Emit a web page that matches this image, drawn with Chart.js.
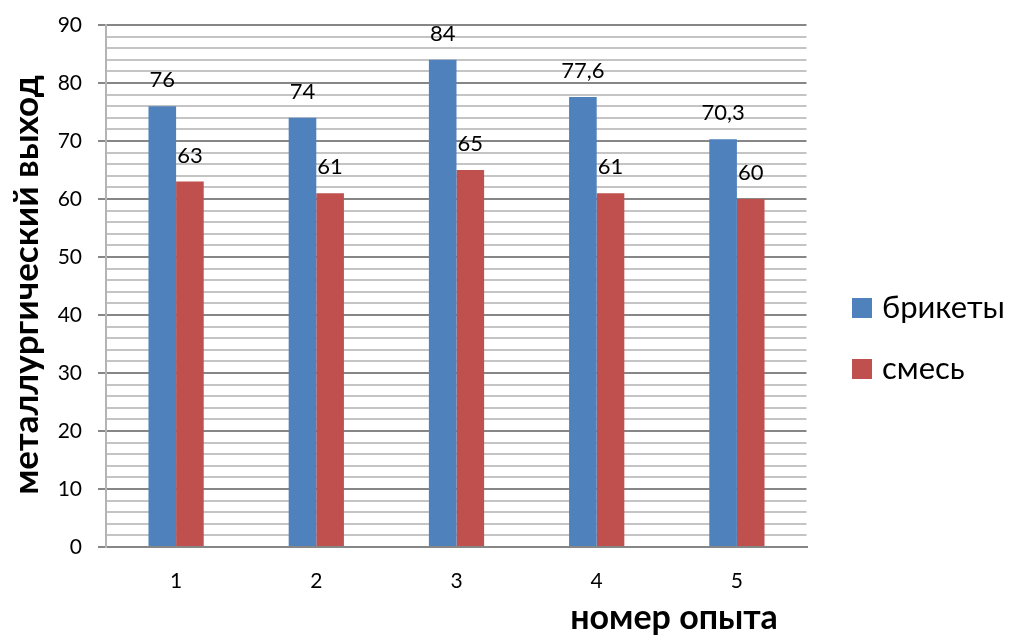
<!DOCTYPE html>
<html>
<head>
<meta charset="utf-8">
<script src="https://cdn.jsdelivr.net/npm/chart.js@4"></script>
<style>
	html, body { margin: 0; padding: 0; background: #fff; }
	#wrap { width: 1019px; height: 644px; position: relative; }
</style>
</head>
<body>
<div id="wrap"><canvas id="chart"></canvas></div>
<script>
// Металлургический выход по номерам опыта
const categories = ["1", "2", "3", "4", "5"];
const briquettes = [76, 74, 84, 77.6, 70.3];
const mixture = [63, 61, 65, 61, 60];
const seriesNames = ["брикеты", "смесь"];

const FONT = "Lato, 'Noto Sans', sans-serif";
Chart.defaults.borderColor = "rgba(0,0,0,0)";

// the original has no right-hand frame line, so wipe the edge after the grid is drawn
const openRightEdge = {
	id: "openRightEdge",
	beforeDatasetsDraw(chart) {
		const a = chart.chartArea;
		const ctx = chart.ctx;
		ctx.save();
		ctx.fillStyle = "#fff";
		ctx.fillRect(a.right - 0.5, a.top - 3, 4, a.bottom - a.top);
		ctx.restore();
	},
};

// value labels above bars, comma as decimal mark
const valueLabels = {
	id: "valueLabels",
	afterDatasetsDraw(chart) {
		const ctx = chart.ctx;
		ctx.save();
		ctx.font = "22px " + FONT;
		ctx.fillStyle = "#000";
		ctx.textAlign = "center";
		ctx.textBaseline = "alphabetic";
		chart.data.datasets.forEach((ds, i) => {
			chart.getDatasetMeta(i).data.forEach((bar, j) => {
				const txt = String(ds.data[j]).replace(".", ",");
				ctx.fillText(txt, bar.x, bar.y - 19);
			});
		});
		ctx.restore();
	},
};

// titles and legend drawn by hand to sit where the original has them
const decorations = {
	id: "decorations",
	afterDraw(chart) {
		const ctx = chart.ctx;
		ctx.save();
		ctx.fillStyle = "#000";
		ctx.font = "bold 34px " + FONT;
		ctx.textAlign = "center";
		ctx.textBaseline = "middle";
		ctx.fillText("номер опыта", 674, 618);

		ctx.font = "bold 35px " + FONT;
		ctx.translate(27, 285);
		ctx.rotate(-Math.PI / 2);
		ctx.fillText("металлургический выход", 0, 0);
		ctx.restore();

		ctx.save();
		ctx.font = "31px " + FONT;
		ctx.textAlign = "left";
		ctx.textBaseline = "middle";
		chart.data.datasets.forEach((ds, i) => {
			const y = 298 + i * 61;
			ctx.fillStyle = ds.backgroundColor;
			ctx.fillRect(852, y, 20, 20);
			ctx.fillStyle = "#000";
			ctx.fillText(ds.label, 882, y + 10);
		});
		ctx.restore();
	},
};

new Chart(document.getElementById("chart"), {
	type: "bar",
	data: {
		labels: categories,
		datasets: [
			{ label: seriesNames[0], data: briquettes, backgroundColor: "#4F81BD" },
			{ label: seriesNames[1], data: mixture, backgroundColor: "#C0504D" },
		],
	},
	options: {
		responsive: true,
		maintainAspectRatio: false,
		animation: false,
		categoryPercentage: 0.394,
		barPercentage: 1,
		layout: { padding: { top: 17, right: 212, left: 0, bottom: 0 } },
		plugins: {
			legend: { display: false },
			tooltip: { enabled: false },
		},
		scales: {
			x: {
				grid: { display: false, drawTicks: false },
				border: { display: true, color: "#868686", width: 2 },
				ticks: { font: { family: FONT, size: 21 }, color: "#000", padding: 22 },
				afterFit: (s) => { s.height = 97; },
			},
			y: {
				min: 0,
				max: 90,
				grid: {
					color: (c) => (c.tick.value % 10 === 0 ? "#868686" : "#c4c4c4"),
					tickColor: (c) => (c.tick.value % 10 === 0 ? "#868686" : "rgba(0,0,0,0)"),
					lineWidth: 2,
					tickLength: 8,
				},
				border: { display: true, color: "#b4b4b4", width: 2 },
				ticks: {
					stepSize: 2,
					autoSkip: false,
					padding: 16,
					color: "#000",
					font: { family: FONT, size: 21, lineHeight: 0.857 },
					callback: (v) => (v % 10 === 0 ? v : ""),
				},
				afterFit: (s) => { s.width = 106; },
			},
		},
	},
	plugins: [openRightEdge, valueLabels, decorations],
});
</script>
</body>
</html>
